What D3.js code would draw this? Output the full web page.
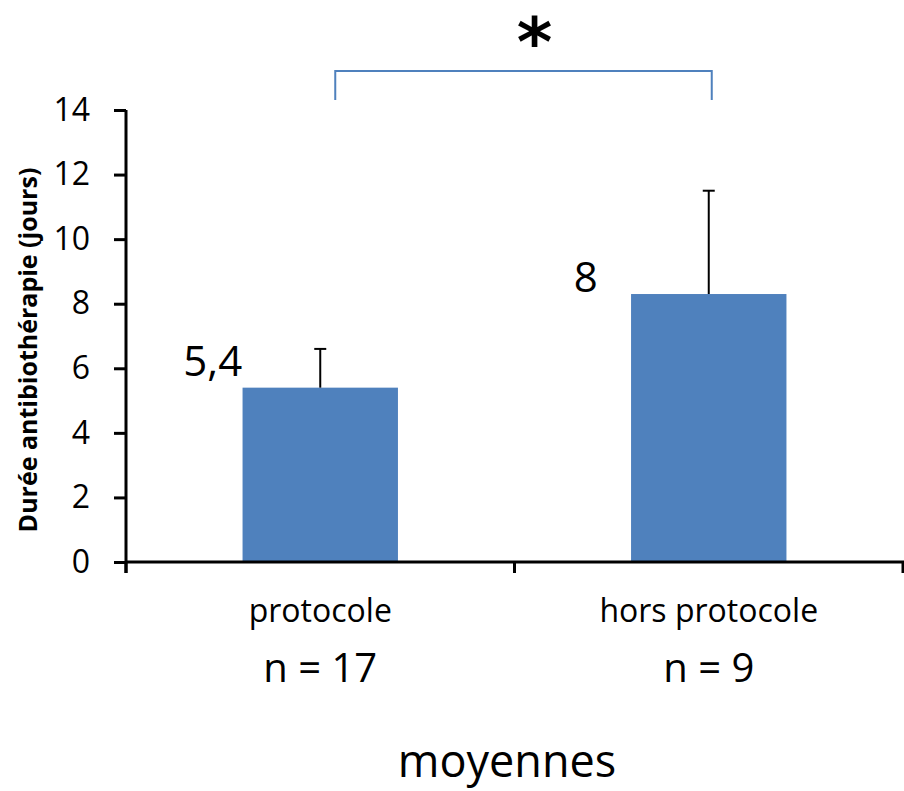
<!DOCTYPE html>
<html>
<head>
<meta charset="utf-8">
<script src="https://cdn.jsdelivr.net/npm/d3@7"></script>
<style>
  html, body { margin: 0; padding: 0; background: #fff; }
  svg { display: block; font-family: "Open Sans", sans-serif; }
</style>
</head>
<body>
<svg id="chart" width="904" height="791"></svg>
<script>
// ---- data ----
const categories = ["protocole", "hors protocole"];
const counts = ["n = 17", "n = 9"];
const means = [5.4, 8.3];
const errorTops = [6.6, 11.5];
const valueLabels = ["5,4", "8"];
const yTicks = [0, 2, 4, 6, 8, 10, 12, 14];
const yTitle = "Durée antibiothérapie (jours)";
const xTitle = "moyennes";
const significance = "*";

// ---- layout ----
const svg = d3.select("#chart");
const plot = { left: 126, right: 903, top: 110, bottom: 562 };
const blue = "#4f81bd";

const x = d3.scaleBand().domain(categories).range([plot.left, plot.right]).padding(0);
const y = d3.scaleLinear().domain([0, 14]).range([plot.bottom, plot.top]);
const barW = x.bandwidth() * 0.4;
const cx = c => x(c) + x.bandwidth() / 2;

// bars
svg.selectAll("rect.bar").data(categories).join("rect")
  .attr("class", "bar")
  .attr("x", c => cx(c) - barW / 2)
  .attr("width", barW)
  .attr("y", (c, i) => y(means[i]))
  .attr("height", (c, i) => y(0) - y(means[i]))
  .attr("fill", blue);

// error bars
const eb = svg.append("g").attr("stroke", "#000").attr("stroke-width", 2);
categories.forEach((c, i) => {
  eb.append("line").attr("x1", cx(c)).attr("x2", cx(c))
    .attr("y1", y(means[i])).attr("y2", y(errorTops[i]));
  eb.append("line").attr("x1", cx(c) - 6).attr("x2", cx(c) + 6)
    .attr("y1", y(errorTops[i])).attr("y2", y(errorTops[i]));
});

// y axis
const yAxis = svg.append("g")
  .attr("transform", `translate(${plot.left},0)`)
  .call(d3.axisLeft(y).tickValues(yTicks).tickSize(12).tickPadding(24).tickFormat(d3.format("d")));
yAxis.select(".domain").attr("d", `M0,${plot.top}V${plot.bottom + 11}`);
yAxis.selectAll("path, line").attr("stroke", "#000").attr("stroke-width", 3);
yAxis.selectAll("text").attr("font-size", 32).attr("fill", "#000")
  .attr("font-family", "Open Sans, sans-serif");

// x axis (ticks at category boundaries)
const xAxisG = svg.append("g").attr("transform", `translate(0,${plot.bottom})`);
xAxisG.append("line").attr("x1", plot.left).attr("x2", plot.right + 1)
  .attr("stroke", "#000").attr("stroke-width", 3);
const boundaries = [plot.left, x(categories[1]), plot.right];
xAxisG.selectAll("line.tick").data(boundaries).join("line")
  .attr("class", "tick")
  .attr("x1", d => d).attr("x2", d => d)
  .attr("y1", 0).attr("y2", 11)
  .attr("stroke", "#000").attr("stroke-width", 3);

// category labels
svg.selectAll("text.cat").data(categories).join("text")
  .attr("class", "cat")
  .attr("x", c => cx(c)).attr("y", 622)
  .attr("text-anchor", "middle").attr("font-size", 32).attr("fill", "#000")
  .text(c => c);
svg.selectAll("text.n").data(counts).join("text")
  .attr("class", "n")
  .attr("x", (d, i) => cx(categories[i])).attr("y", 682)
  .attr("text-anchor", "middle").attr("font-size", 40).attr("fill", "#000")
  .text(d => d);

// value labels
const labelLayout = [{ dx: -78, dy: -12 }, { dx: -111, dy: -2 }];
svg.selectAll("text.val").data(valueLabels).join("text")
  .attr("class", "val")
  .attr("x", (d, i) => cx(categories[i]) + labelLayout[i].dx)
  .attr("y", (d, i) => y(means[i]) + labelLayout[i].dy)
  .attr("text-anchor", "end").attr("font-size", 42).attr("fill", "#000")
  .text(d => d);

// y title
svg.append("text")
  .attr("transform", `translate(37,350) rotate(-90)`)
  .attr("text-anchor", "middle").attr("font-size", 25).attr("font-weight", "bold")
  .attr("fill", "#000").text(yTitle);

// x title
svg.append("text")
  .attr("x", 507).attr("y", 777)
  .attr("text-anchor", "middle").attr("font-size", 45).attr("fill", "#000")
  .text(xTitle);

// significance bracket
const bx1 = cx(categories[0]) + 15, bx2 = cx(categories[1]) + 3;
svg.append("path")
  .attr("d", `M${bx1},100V71H${bx2}V100`)
  .attr("fill", "none").attr("stroke", blue).attr("stroke-width", 2);
svg.append("text")
  .attr("x", (bx1 + bx2) / 2 + 11).attr("y", 66)
  .attr("text-anchor", "middle").attr("font-size", 68).attr("font-weight", "bold")
  .attr("font-family", "DejaVu Sans, sans-serif")
  .attr("fill", "#000").text(significance);
</script>
</body>
</html>
